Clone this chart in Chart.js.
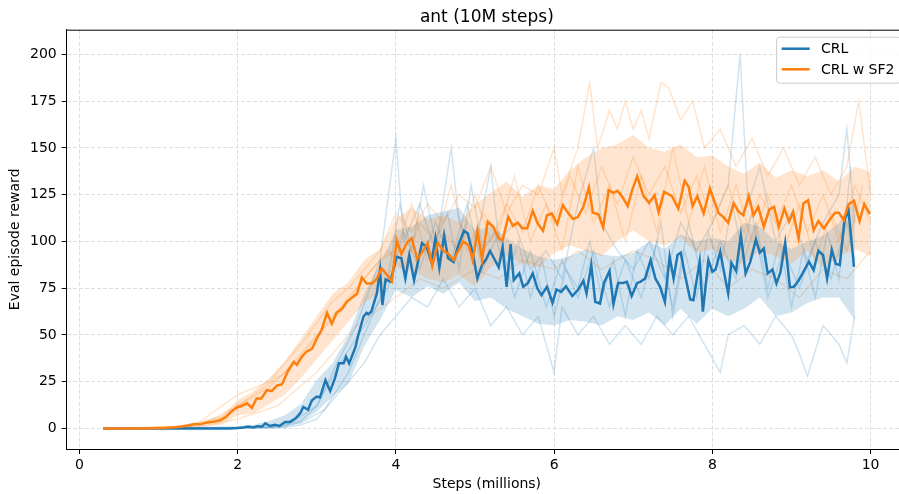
<!DOCTYPE html>
<html>
<head>
<meta charset="utf-8">
<script src="https://cdn.jsdelivr.net/npm/chart.js@4.4.0/dist/chart.umd.min.js"></script>
<style>
html, body { margin: 0; padding: 0; background: #fff; overflow: hidden; }
#chart { display: block; }
</style>
</head>
<body>
<canvas id="chart" width="907" height="494"></canvas>
<script>
// tick labels
const xTickValues = [0, 2, 4, 6, 8, 10];
const yTickValues = [0, 25, 50, 75, 100, 125, 150, 175, 200];

// CRL mean curve (millions of steps / reward)
const crlSteps = [0.3,0.6,1.0,1.5,1.9,2.0,2.07,2.13,2.2,2.25,2.31,2.35,2.41,2.47,2.53,2.60,2.66,2.73,2.79,2.83,2.89,2.94,3.0,3.04,3.11,3.17,3.23,3.28,3.34,3.37,3.41,3.49,3.52,3.59,3.63,3.65,3.69,3.76,3.80,3.83,3.87,3.93,4.01,4.07,4.12,4.17,4.23,4.33,4.39,4.45,4.50,4.55,4.61,4.66,4.73,4.79,4.86,4.91,4.98,5.03,5.09,5.14,5.19,5.24,5.30,5.35,5.40,5.45,5.49,5.56,5.61,5.67,5.73,5.79,5.84,5.91,5.98,6.03,6.09,6.15,6.23,6.30,6.37,6.41,6.47,6.52,6.58,6.63,6.70,6.75,6.81,6.87,6.92,6.98,7.05,7.09,7.15,7.22,7.28,7.34,7.40,7.46,7.51,7.56,7.60,7.65,7.72,7.76,7.84,7.88,7.95,8.0,8.04,8.10,8.15,8.20,8.24,8.30,8.36,8.42,8.48,8.55,8.60,8.65,8.70,8.76,8.81,8.86,8.92,8.98,9.03,9.09,9.14,9.22,9.28,9.34,9.40,9.45,9.51,9.56,9.61,9.67,9.72,9.79];
const crlMean = [0,0,0,0,0,0.2,0.5,1,0.5,1.2,1,2.7,1.3,2,1.3,3.5,3.5,5.3,8,11.5,10,15,17,16.5,25.8,20,26.7,34.8,34.8,38.3,34.8,43.6,49,59.7,61.8,61,62.5,72.2,84.7,66,79.7,78.5,91.8,91,80.2,92.7,79.3,99,97,89,101.6,86,103.3,91,89,98,105.7,104.2,91.8,80.2,87.5,90.4,94.9,91,86.2,97,75.7,98.6,79.3,82.9,75.7,77.8,82.9,74.8,71.3,75.7,67.2,74.3,73,76,70.8,74,79,72.2,87.3,67.7,66.8,77.8,84.2,66.5,77.8,77.8,78.4,70.8,77.8,78.4,80.2,90,80.2,75.7,67.7,91.8,80.2,92.7,94,82.9,69,68.6,89.2,62.4,90,83.8,85,94.5,82.9,72.2,88.6,84.2,103.4,82.9,89.2,101,94,96.2,82.9,85,77.5,83.4,99.3,75.4,75.7,79,82.9,89.2,84.7,95,92.7,80.2,95.4,88,87.3,111.4,116.7,86.4];

// CRL spread band
const crlBandSteps = [0.3,1.0,1.9,2.2,2.4,2.6,2.8,3.0,3.2,3.4,3.6,3.8,4.0,4.2,4.4,4.6,4.8,5.0,5.2,5.4,5.6,5.8,6.0,6.2,6.4,6.6,6.8,7.0,7.2,7.4,7.6,7.8,8.0,8.2,8.4,8.6,8.8,9.0,9.2,9.4,9.6,9.8];
const crlUpper = [0,0,0.2,2,4,7,13,26,35,50,72,88,106,108,114,116,118,106,108,102,96,92,90,92,96,93,92,94,100,96,104,100,102,100,110,108,100,96,100,103,110,122];
const crlLower = [0,0,0,0,0.5,1,3,9,17,24,44,58,74,70,76,72,78,68,70,64,60,56,55,58,57,55,60,58,62,55,64,56,64,60,64,70,60,62,67,70,70,58];

// CRL single runs (faint)
const crlSeedASteps = [0.3,2.4,2.8,3.0,3.2,3.5,3.8,4.0,4.1,4.3,4.5,4.7,4.8,5.0,5.2,5.3,5.5,5.7,5.9,6.1,6.3,6.5,6.6,6.8,7.0,7.2,7.4,7.6,7.8,8.0,8.2,8.35,8.45,8.6,8.8,9.0,9.2,9.4,9.6,9.7,9.8];
const crlSeedA = [0,0.5,4,12,30,55,90,155,100,120,95,150,110,95,140,100,110,85,95,80,120,150,110,95,85,100,80,110,95,110,130,200,120,140,100,115,90,110,125,160,110];
const crlSeedBSteps = [0.3,2.6,2.8,3.0,3.2,3.4,3.6,3.8,4.0,4.2,4.4,4.6,4.8,5.0,5.2,5.4,5.6,5.8,6.0,6.1,6.3,6.5,6.7,6.9,7.1,7.3,7.5,7.7,7.9,8.1,8.2,8.4,8.6,8.8,9.0,9.1,9.2,9.4,9.6,9.7,9.8];
const crlSeedB = [0,0.5,2,5,15,25,35,50,60,70,65,80,65,75,55,65,50,60,30,65,50,60,45,55,45,60,50,60,45,30,50,55,45,60,50,40,28,55,45,35,60];
const crlSeedCSteps = [0.3,2.6,3.0,3.3,3.6,3.9,4.1,4.3,4.5,4.7,4.9,5.1,5.3,5.5,5.7,5.9,6.1,6.3,6.5,6.7,6.9,7.1,7.3,7.5,7.7,7.9,8.1,8.3,8.5,8.7,8.9,9.1,9.3,9.5,9.7,9.8];
const crlSeedC = [0,1,12,35,55,75,105,85,110,90,120,85,105,70,95,65,90,70,95,65,90,70,100,65,110,75,100,80,115,70,95,75,100,80,110,90];
const crlSeedDSteps = [0.3,2.5,2.8,3.1,3.4,3.7,3.9,4.05,4.2,4.35,4.5,4.65,4.8,4.95,5.1,5.25,5.4,5.55,5.7,5.85,6.0,6.15,6.3,6.45,6.6,6.75,6.9,7.05,7.2,7.35,7.5,7.65,7.8,7.95,8.1,8.25,8.4,8.55,8.7,8.85,9.0,9.15,9.3,9.45,9.6,9.75];
const crlSeedD = [0,0.5,3,10,30,60,80,120,95,130,100,115,85,130,95,105,80,100,70,90,60,85,75,100,70,90,60,95,80,110,60,95,70,105,85,120,90,110,75,100,65,95,70,105,80,140];

// CRL w SF2 mean curve
const sf2Steps = [0.3,0.5,0.7,0.9,1.0,1.1,1.2,1.3,1.36,1.45,1.53,1.6,1.69,1.78,1.85,1.92,1.99,2.05,2.12,2.18,2.24,2.30,2.37,2.43,2.50,2.56,2.64,2.71,2.75,2.81,2.87,2.94,3.0,3.06,3.13,3.19,3.25,3.32,3.38,3.44,3.51,3.57,3.63,3.70,3.76,3.82,3.88,3.95,4.01,4.07,4.14,4.20,4.27,4.33,4.40,4.46,4.53,4.60,4.66,4.73,4.79,4.85,4.92,4.97,5.03,5.09,5.16,5.23,5.30,5.35,5.42,5.48,5.54,5.60,5.66,5.73,5.79,5.86,5.91,5.97,6.04,6.11,6.18,6.24,6.30,6.37,6.44,6.49,6.56,6.62,6.69,6.75,6.80,6.86,6.93,6.99,7.05,7.13,7.20,7.27,7.32,7.39,7.49,7.57,7.65,7.70,7.75,7.81,7.89,7.97,8.08,8.14,8.20,8.27,8.33,8.39,8.46,8.52,8.58,8.65,8.72,8.78,8.84,8.91,8.97,9.02,9.09,9.15,9.21,9.28,9.34,9.41,9.49,9.55,9.60,9.66,9.72,9.79,9.86,9.92,9.99];
const sf2Mean = [0,0,0,0.1,0.2,0.3,0.6,1.0,1.5,2.2,2.3,3,3.5,4.4,6,9,11.2,12,13.4,11,16,16,20.5,20,23,23.5,31,35.6,34,38.3,41,42.5,48,52.5,61.8,56,61.8,64,67.7,69.8,72,80.7,77.5,77.5,80,85.6,82.5,78.7,100.7,93.2,99.3,101.6,90.6,94,99.2,87,99.3,95,93.5,90,95,99.8,98,90,105.7,90.4,110.5,107.8,101.6,100.7,113.2,108.3,110,107,107,116.4,109.7,105.7,114,115,109.3,119.4,115,112,113,118.5,128.9,115.3,114.5,107.5,127.4,126,127,124,118.9,127.8,134.8,124.2,120.6,124.7,115.8,126.5,124.2,117.6,132.4,129.2,118.9,124.2,115,128.3,115,113,110,120.3,116,114,124.2,114,118.5,107.8,117.1,118.5,107.8,117.6,110.5,115.8,101.6,120.3,122,106,110.9,107,112,115.3,115.3,111.4,119.8,121.7,110.9,120,114.6];

// CRL w SF2 spread band
const sf2BandSteps = [0.3,0.8,1.2,1.5,1.8,2.0,2.2,2.4,2.6,2.8,3.0,3.2,3.4,3.6,3.8,4.0,4.2,4.4,4.6,4.8,5.0,5.2,5.4,5.6,5.8,6.0,6.2,6.4,6.6,6.8,7.0,7.2,7.4,7.6,7.8,8.0,8.2,8.4,8.6,8.8,9.0,9.2,9.4,9.6,9.8,10.0];
const sf2Upper = [0,0.3,1.2,3.5,7,15,20,27,36,48,60,72,78,90,96,112,118,112,114,110,120,126,132,124,130,128,138,145,150,152,157,150,148,152,145,146,140,136,142,134,138,135,138,132,140,137];
const sf2Lower = [0,0,0.2,1,2,7,8,13,18,27,37,47,57,67,73,86,84,80,78,82,76,86,92,88,86,94,98,95,92,100,106,100,98,102,94,96,90,88,95,92,88,95,86,92,96,92];

// CRL w SF2 single runs (faint)
const sf2SeedASteps = [0.3,1.2,1.5,2.0,2.4,2.8,3.2,3.4,3.6,3.8,4.0,4.2,4.4,4.6,4.8,5.0,5.2,5.4,5.6,5.8,6.0,6.1,6.3,6.45,6.55,6.7,6.8,6.9,7.0,7.1,7.2,7.35,7.45,7.6,7.75,7.9,8.1,8.3,8.5,8.7,8.9,9.1,9.3,9.5,9.7,9.85,10.0];
const sf2SeedA = [0,0.5,3,18,25,45,68,75,85,95,115,105,120,110,125,118,140,115,130,125,150,125,150,185,150,170,160,175,160,170,155,185,182,165,175,150,160,140,155,135,150,130,145,125,140,175,125];
const sf2SeedBSteps = [0.3,1.5,2.0,2.5,3.0,3.5,4.0,4.3,4.6,5.0,5.3,5.6,6.0,6.3,6.6,7.0,7.3,7.6,7.9,8.2,8.5,8.8,9.1,9.4,9.7,10.0];
const sf2SeedB = [0,0.5,5,12,30,55,70,80,75,85,80,90,85,95,85,95,90,80,90,75,85,80,70,85,80,95];
const sf2SeedCSteps = [0.3,1.5,2.0,2.4,2.8,3.2,3.5,3.8,4.0,4.2,4.4,4.6,4.8,5.0,5.2,5.4,5.6,5.8,6.0,6.2,6.4,6.6,6.8,7.0,7.2,7.4,7.6,7.8,8.0,8.2,8.4,8.6,8.8,9.0,9.2,9.4,9.6,9.8,10.0];
const sf2SeedC = [0,1,12,22,38,60,75,90,95,120,90,105,95,125,100,120,105,130,110,135,115,140,120,145,125,140,115,135,110,130,105,125,110,130,105,125,100,130,110];
const sf2SeedDSteps = [0.3,1.4,1.8,2.2,2.6,3.0,3.3,3.6,3.9,4.1,4.3,4.5,4.7,4.9,5.1,5.3,5.5,5.7,5.9,6.1,6.3,6.5,6.7,6.9,7.1,7.3,7.5,7.7,7.9,8.1,8.3,8.5,8.7,8.9,9.1,9.3,9.5,9.7,9.9];
const sf2SeedD = [0,1,6,18,30,50,62,80,95,85,110,100,130,95,115,105,135,100,120,95,140,110,130,100,135,105,150,110,140,105,130,100,125,95,120,90,115,95,130];

const BLUE = '#1f77b4';
const ORANGE = '#ff7f0e';
const BLUE_FAINT = 'rgba(31,119,180,0.2)';
const ORANGE_FAINT = 'rgba(255,127,14,0.2)';
const FONT = 'DejaVu Sans';

function points(steps, values) {
    return steps.map((x, i) => ({ x: x, y: values[i] }));
}

function lineSet(label, steps, values, color, width, order, extra) {
    return Object.assign({
        label: label,
        data: points(steps, values),
        borderColor: color,
        borderWidth: width,
        pointRadius: 0,
        fill: false,
        tension: 0,
        order: order
    }, extra || {});
}

const datasets = [
    lineSet('CRL w SF2', sf2Steps, sf2Mean, ORANGE, 2.5, 0, { inLegend: true }),
    lineSet('CRL', crlSteps, crlMean, BLUE, 2.5, 1, { inLegend: true }),
    lineSet('sf2 upper', sf2BandSteps, sf2Upper, 'rgba(0,0,0,0)', 0, 2, { fill: '+1', backgroundColor: 'rgba(255,127,14,0.2)' }),
    lineSet('sf2 lower', sf2BandSteps, sf2Lower, 'rgba(0,0,0,0)', 0, 2),
    lineSet('crl upper', crlBandSteps, crlUpper, 'rgba(0,0,0,0)', 0, 3, { fill: '+1', backgroundColor: 'rgba(31,119,180,0.2)' }),
    lineSet('crl lower', crlBandSteps, crlLower, 'rgba(0,0,0,0)', 0, 3),
    lineSet('sf2 a', sf2SeedASteps, sf2SeedA, ORANGE_FAINT, 1.5, 4),
    lineSet('sf2 b', sf2SeedBSteps, sf2SeedB, ORANGE_FAINT, 1.5, 4),
    lineSet('sf2 c', sf2SeedCSteps, sf2SeedC, ORANGE_FAINT, 1.5, 4),
    lineSet('sf2 d', sf2SeedDSteps, sf2SeedD, ORANGE_FAINT, 1.5, 4),
    lineSet('crl a', crlSeedASteps, crlSeedA, BLUE_FAINT, 1.5, 5),
    lineSet('crl b', crlSeedBSteps, crlSeedB, BLUE_FAINT, 1.5, 5),
    lineSet('crl c', crlSeedCSteps, crlSeedC, BLUE_FAINT, 1.5, 5),
    lineSet('crl d', crlSeedDSteps, crlSeedD, BLUE_FAINT, 1.5, 5)
];

// top spine + legend box in the upper right corner
const framePlugin = {
    id: 'frame',
    afterDraw(chart) {
        const ctx = chart.ctx;
        const area = chart.chartArea;
        ctx.save();
        ctx.strokeStyle = '#000';
        ctx.lineWidth = 1;
        ctx.beginPath();
        ctx.moveTo(area.left, area.top + 0.5);
        ctx.lineTo(area.right, area.top + 0.5);
        ctx.stroke();

        const items = chart.data.datasets.filter(d => d.inLegend).reverse();
        ctx.font = '14px "' + FONT + '"';
        const textW = Math.max(...items.map(d => ctx.measureText(d.label).width));
        const pad = 5.6, handle = 28, gap = 11.2, rowH = 20.6;
        const right = area.right - 7;
        const top = area.top + 7;
        const w = pad + handle + gap + textW + pad;
        const h = 46;
        const left = right - w;
        ctx.fillStyle = 'rgba(255,255,255,0.8)';
        ctx.strokeStyle = '#cccccc';
        ctx.beginPath();
        ctx.roundRect(left + 0.5, top + 0.5, w, h, 3);
        ctx.fill();
        ctx.stroke();
        ctx.textBaseline = 'middle';
        ctx.textAlign = 'left';
        items.forEach((d, i) => {
            const y = top + 12 + i * rowH;
            ctx.strokeStyle = d.borderColor;
            ctx.lineWidth = d.borderWidth;
            ctx.beginPath();
            ctx.moveTo(left + pad, y);
            ctx.lineTo(left + pad + handle, y);
            ctx.stroke();
            ctx.fillStyle = '#000';
            ctx.fillText(d.label, left + pad + handle + gap, y + 1);
        });
        ctx.restore();
    }
};

new Chart(document.getElementById('chart'), {
    type: 'line',
    data: { datasets: datasets },
    plugins: [framePlugin],
    options: {
        responsive: false,
        animation: false,
        devicePixelRatio: 1,
        layout: { padding: 0 },
        plugins: {
            legend: { display: false },
            tooltip: { enabled: false },
            title: {
                display: true,
                text: 'ant (10M steps)',
                fullSize: false,
                color: '#000',
                font: { family: FONT, size: 17, weight: 'normal' },
                padding: { top: 7, bottom: 2.3 }
            }
        },
        scales: {
            x: {
                type: 'linear',
                min: -0.16,
                max: 10.46,
                afterFit(scale) { scale.height = 45; },
                afterBuildTicks(scale) { scale.ticks = xTickValues.map(v => ({ value: v })); },
                ticks: {
                    color: '#000',
                    padding: 3,
                    maxRotation: 0,
                    font: { family: FONT, size: 14 },
                    callback: v => String(v)
                },
                grid: {
                    color: '#dedede',
                    lineWidth: 1,
                    drawTicks: true,
                    tickLength: 5,
                    tickColor: '#000',
                    tickWidth: 1
                },
                border: { display: true, color: '#000', width: 1, dash: [4, 2] },
                title: {
                    display: true,
                    text: 'Steps (millions)',
                    color: '#000',
                    font: { family: FONT, size: 14 },
                    padding: { top: 0, bottom: 1.6 }
                }
            },
            y: {
                type: 'linear',
                min: -11,
                max: 213.2,
                afterFit(scale) { scale.width = 66.7; },
                afterBuildTicks(scale) { scale.ticks = yTickValues.map(v => ({ value: v })); },
                ticks: {
                    color: '#000',
                    padding: 5,
                    font: { family: FONT, size: 14 },
                    callback: v => String(v)
                },
                grid: {
                    color: '#dedede',
                    lineWidth: 1,
                    drawTicks: true,
                    tickLength: 5,
                    tickColor: '#000',
                    tickWidth: 1
                },
                border: { display: true, color: '#000', width: 1, dash: [4, 2] },
                title: {
                    display: true,
                    text: 'Eval episode reward',
                    color: '#000',
                    font: { family: FONT, size: 14 },
                    padding: { top: 6.6, bottom: 0 }
                }
            }
        }
    }
});
</script>
</body>
</html>
